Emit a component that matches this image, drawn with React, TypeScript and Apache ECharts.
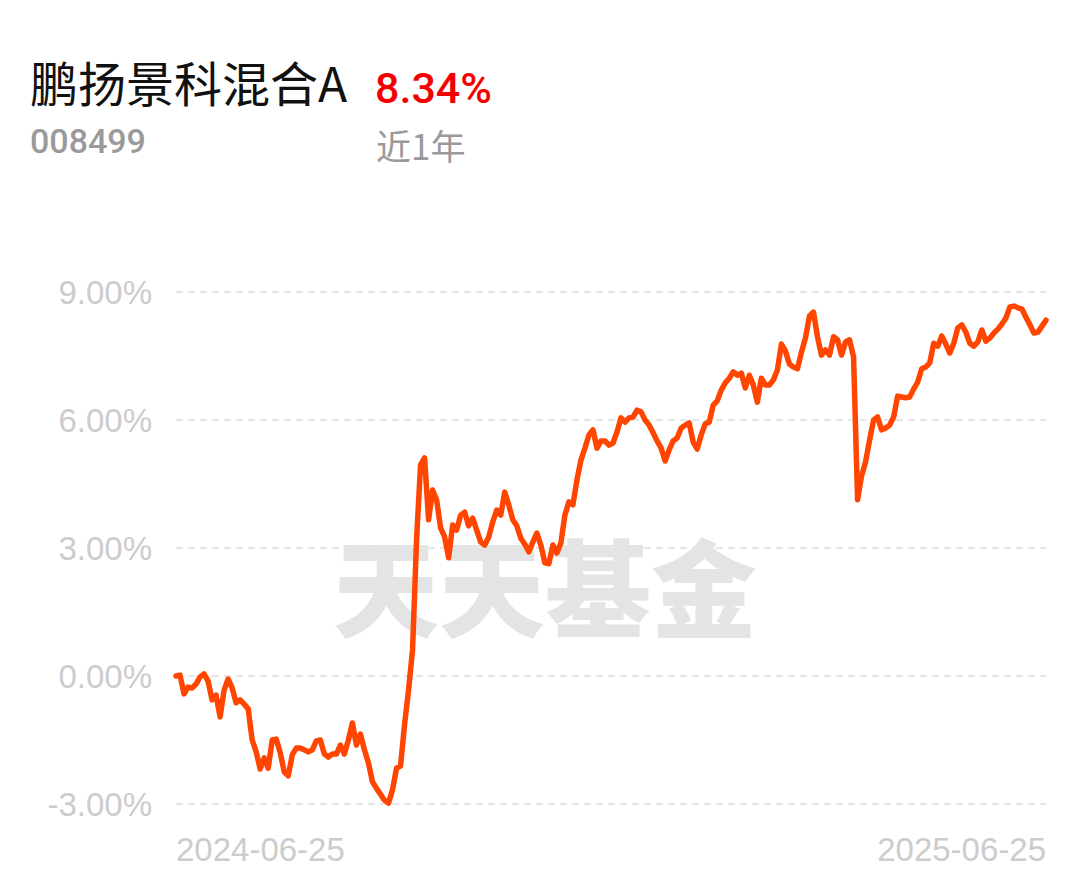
import React, { useEffect, useRef } from "react";
import * as echarts from "echarts";

const fundName = "鹏扬景科混合A";
const fundCode = "008499";
const periodReturn = "8.34%";
const periodLabel = "近1年";
const watermark = "天天基金";
const startLabel = "2024-06-25";
const endLabel = "2025-06-25";
const yTicks = [-3, 0, 3, 6, 9];

// cumulative return (%) per trading day
const returns: number[] = [
  0.0, 0.02, -0.42, -0.26, -0.28, -0.19, -0.02, 0.05, -0.12, -0.56,
  -0.45, -0.96, -0.33, -0.07, -0.28, -0.63, -0.56, -0.66, -0.77, -1.5,
  -1.78, -2.18, -1.92, -2.16, -1.5, -1.48, -1.8, -2.25, -2.34, -1.85,
  -1.69, -1.69, -1.73, -1.78, -1.73, -1.52, -1.5, -1.83, -1.9, -1.83,
  -1.83, -1.62, -1.83, -1.5, -1.1, -1.62, -1.36, -1.73, -2.04, -2.48,
  -2.63, -2.77, -2.91, -2.98, -2.67, -2.16, -2.11, -1.15, -0.33, 0.61,
  3.19, 4.95, 5.11, 3.66, 4.36, 4.13, 3.47, 3.26, 2.77, 3.54,
  3.42, 3.77, 3.84, 3.52, 3.7, 3.42, 3.14, 3.07, 3.26, 3.61,
  3.89, 3.77, 4.31, 4.01, 3.66, 3.52, 3.23, 3.09, 2.91, 3.14,
  3.35, 3.07, 2.65, 2.63, 3.07, 2.88, 3.12, 3.77, 4.08, 4.01,
  4.59, 5.06, 5.34, 5.65, 5.77, 5.34, 5.51, 5.51, 5.41, 5.46,
  5.72, 6.05, 5.95, 6.05, 6.07, 6.23, 6.19, 6.0, 5.88, 5.7,
  5.51, 5.34, 5.04, 5.3, 5.51, 5.58, 5.81, 5.88, 5.93, 5.48,
  5.32, 5.65, 5.91, 5.95, 6.35, 6.45, 6.7, 6.87, 6.98, 7.13,
  7.05, 7.1, 6.75, 7.05, 6.82, 6.42, 6.98, 6.82, 6.82, 6.94,
  7.17, 7.78, 7.62, 7.31, 7.24, 7.2, 7.59, 7.92, 8.44, 8.53,
  7.95, 7.52, 7.64, 7.52, 7.95, 7.88, 7.52, 7.83, 7.88, 7.48,
  4.13, 4.69, 5.02, 5.53, 6.0, 6.07, 5.77, 5.81, 5.88, 6.07,
  6.56, 6.54, 6.52, 6.54, 6.73, 6.89, 7.2, 7.24, 7.34, 7.8,
  7.73, 7.97, 7.78, 7.57, 7.8, 8.16, 8.23, 8.06, 7.8, 7.73,
  7.83, 8.11, 7.85, 7.92, 8.04, 8.13, 8.25, 8.39, 8.65, 8.67,
  8.63, 8.6, 8.41, 8.23, 8.04, 8.06, 8.2, 8.34,
];

const categories: string[] = returns.map((_, i) =>
  i === 0 ? startLabel : i === returns.length - 1 ? endLabel : String(i)
);

export default function App() {
  const ref = useRef<HTMLDivElement>(null);
  useEffect(() => {
    if (!ref.current) return;
    const chart = echarts.init(ref.current, null, { renderer: "svg" });
    const last = categories.length - 1;
    chart.setOption({
      animation: false,
      backgroundColor: "#ffffff",
      grid: { left: 176, right: 43, top: 292, bottom: 77, containLabel: false },
      xAxis: {
        type: "category",
        data: categories,
        boundaryGap: false,
        axisLine: { show: false },
        axisTick: { show: false },
        splitLine: { show: false },
        axisLabel: {
          interval: (idx: number) => idx === 0 || idx === last,
          formatter: (v: string, idx: number) => (idx === 0 || idx === last ? v : ""),
          color: "#cccccc",
          fontSize: 33,
          fontFamily: "Liberation Sans, Arial, sans-serif",
          margin: 29,
          alignMinLabel: "left",
          alignMaxLabel: "right",
          showMinLabel: true,
          showMaxLabel: true,
        },
      },
      yAxis: {
        type: "value",
        min: yTicks[0],
        max: yTicks[yTicks.length - 1],
        interval: 3,
        axisLine: { show: false },
        axisTick: { show: false },
        axisLabel: {
          formatter: (v: number) => v.toFixed(2) + "%",
          color: "#cccccc",
          fontSize: 33,
          fontFamily: "Liberation Sans, Arial, sans-serif",
          margin: 24,
        },
        splitLine: {
          show: true,
          lineStyle: { color: "#e6e6e6", width: 2, type: [7, 5] },
        },
      },
      graphic: [
        {
          type: "text",
          left: 30,
          top: 57,
          style: {
            text: fundName,
            fill: "#111111",
            font: '400 48px "Noto Sans CJK SC", sans-serif',
          },
        },
        {
          type: "text",
          left: 375,
          top: 66,
          style: {
            text: periodReturn,
            fill: "#f50000",
            font: '500 43px Roboto, "Noto Sans", sans-serif',
          },
        },
        {
          type: "text",
          left: 30,
          top: 124,
          style: {
            text: fundCode,
            fill: "#9a9a9a",
            font: '500 34px Roboto, "Noto Sans", sans-serif',
          },
        },
        {
          type: "text",
          left: 376,
          top: 127,
          style: {
            text: periodLabel,
            fill: "#9a9a9a",
            font: '400 35px "Noto Sans CJK SC", sans-serif',
          },
        },
        {
          type: "text",
          z: -10,
          left: 333,
          top: 530,
          style: {
            text: watermark,
            fill: "#e4e4e4",
            font: '900 106px "Noto Sans CJK SC", sans-serif',
          },
        },
      ],
      series: [
        {
          type: "line",
          data: returns,
          showSymbol: false,
          symbol: "none",
          z: 5,
          lineStyle: { color: "#ff4500", width: 5.5, join: "round", cap: "round" },
        },
      ],
    });
    return () => chart.dispose();
  }, []);
  return (
    <div
      ref={ref}
      style={{ position: "fixed", left: 0, top: 0, width: 1089, height: 881 }}
    />
  );
}
